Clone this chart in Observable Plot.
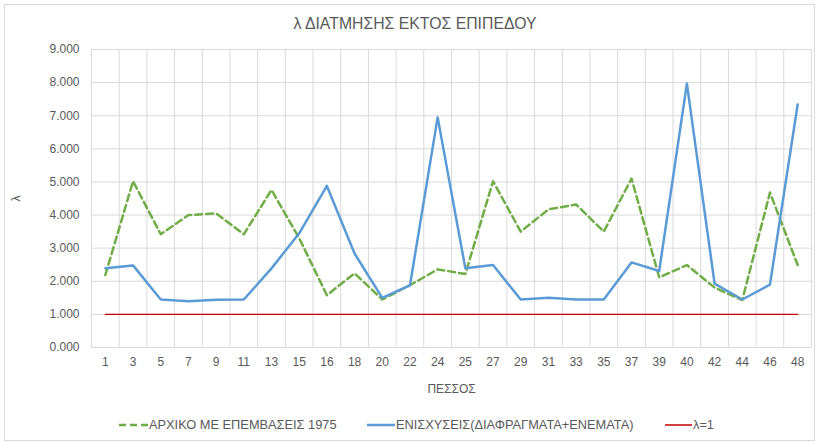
<!DOCTYPE html>
<html>
<head>
<meta charset="utf-8">
<script src="https://cdn.jsdelivr.net/npm/d3@7"></script>
<script src="https://cdn.jsdelivr.net/npm/@observablehq/plot@0.6"></script>
<style>
  body { margin: 0; background: #fff; font-family: "Liberation Sans", Arial, sans-serif; }
  #wrap { position: relative; width: 818px; height: 443px; overflow: hidden; }
  #frame { position: absolute; left: 4px; top: 4px; width: 809px; height: 435px; border: 1px solid #d9d9d9; }
  #title { position: absolute; top: 15px; left: 6px; width: 818px; text-align: center; font-size: 15.8px; color: #595959; }
  #chart { position: absolute; top: 40px; left: 0; }
  .leg { position: absolute; top: 417px; font-size: 12.8px; color: #595959; display: flex; align-items: center; white-space: nowrap; }
  .leg svg { margin-right: 1px; }
</style>
</head>
<body>
<div id="wrap">
  <div id="frame"></div>
  <div id="title">λ ΔΙΑΤΜΗΣΗΣ ΕΚΤΟΣ ΕΠΙΠΕΔΟΥ</div>
  <div id="chart"></div>
  <div class="leg" style="left:119px"><svg width="29" height="10"><line x1="0" y1="5" x2="29" y2="5" stroke="#70ad47" stroke-width="2.5" stroke-dasharray="7,4"/></svg><span>ΑΡΧΙΚΟ ΜΕ ΕΠΕΜΒΑΣΕΙΣ 1975</span></div>
  <div class="leg" style="left:367px"><svg width="28" height="10"><line x1="0" y1="5" x2="28" y2="5" stroke="#5b9bd5" stroke-width="2.5"/></svg><span>ΕΝΙΣΧΥΣΕΙΣ(ΔΙΑΦΡΑΓΜΑΤΑ+ΕΝΕΜΑΤΑ)</span></div>
  <div class="leg" style="left:665px"><svg width="27" height="10"><line x1="0" y1="5" x2="27" y2="5" stroke="#c00000" stroke-width="1.5"/></svg><span>λ=1</span></div>
</div>
<script>
const categories = ["1","3","5","7","9","11","13","15","16","18","20","22","24","25","27","29","31","33","35","37","39","40","42","44","46","48"];
const original   = [2.19,5.02,3.42,4.00,4.05,3.42,4.76,3.30,1.58,2.24,1.45,1.88,2.36,2.22,5.02,3.50,4.17,4.32,3.50,5.10,2.12,2.49,1.81,1.43,4.68,2.49];
const reinforced = [2.39,2.48,1.45,1.40,1.44,1.45,2.39,3.45,4.88,2.84,1.50,1.88,6.95,2.39,2.49,1.45,1.50,1.45,1.45,2.57,2.31,7.97,1.93,1.45,1.90,7.34];
const lambdaOne  = [1,1,1,1,1,1,1,1,1,1,1,1,1,1,1,1,1,1,1,1,1,1,1,1,1,1];
const yTicks = [0,1,2,3,4,5,6,7,8,9];

const idx = categories.map((c, i) => i);
const bounds = d3.range(-0.5, categories.length, 1);
const rows = (vals) => vals.map((v, i) => ({i, v}));

const chart = Plot.plot({
  width: 818,
  height: 357,
  marginLeft: 91,
  marginRight: 7,
  marginTop: 9,
  marginBottom: 50,
  style: { fontFamily: "Liberation Sans, Arial, sans-serif", fontSize: "12px", color: "#595959", background: "transparent" },
  x: { type: "linear", domain: [-0.5, categories.length - 0.5] },
  y: { domain: [0, 9] },
  marks: [
    Plot.ruleY(yTicks, { stroke: "#d9d9d9", strokeWidth: 1 }),
    Plot.ruleX(bounds, { stroke: "#d9d9d9", strokeWidth: 1 }),
    Plot.axisX({ ticks: idx, tickFormat: i => categories[i], tickSize: 0, tickPadding: 10, label: "ΠΕΣΣΟΣ", labelAnchor: "center", labelOffset: 45, labelArrow: "none" }),
    Plot.axisY({ ticks: yTicks, tickFormat: d3.format(".3f"), tickSize: 0, tickPadding: 12, label: "λ", labelAnchor: "center", labelOffset: 80, labelArrow: "none" }),
    Plot.lineY(rows(lambdaOne), { x: "i", y: "v", stroke: "#c00000", strokeWidth: 1.3 }),
    Plot.lineY(rows(original), { x: "i", y: "v", stroke: "#70ad47", strokeWidth: 2.5, strokeDasharray: "7,4" }),
    Plot.lineY(rows(reinforced), { x: "i", y: "v", stroke: "#5b9bd5", strokeWidth: 2.5 })
  ]
});
document.getElementById("chart").appendChild(chart);
</script>
</body>
</html>
